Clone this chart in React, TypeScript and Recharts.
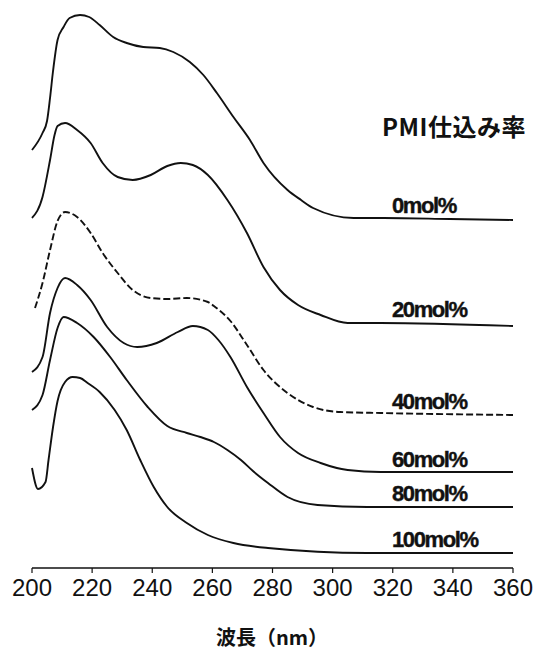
import React from 'react';
import { LineChart, Line, XAxis, YAxis } from 'recharts';

// wavelength (nm) and stacked absorbance (arbitrary units, offset per curve)
const wl0 = [200, 203.5, 205, 206, 207, 208.5, 210.5, 212.5, 216, 219, 222.5, 227, 231.5, 237, 242.5, 247, 252.5, 257, 261.5, 267, 272.5, 277, 285, 289.5, 293.5, 307, 317, 339, 360];
const abs0 = [418, 435, 447, 470, 497, 528, 541, 550, 553, 551, 543, 531, 525, 521, 520, 516, 506, 493, 475, 451, 428, 405, 378, 368, 360, 350, 350, 349, 348];

const wl20 = [200, 203.5, 206, 207.5, 208.5, 211, 215, 219.5, 223.5, 228.5, 233.5, 239.5, 245, 249.5, 253.5, 258.5, 265, 271.5, 277, 282.5, 288.5, 296, 305, 316, 360];
const abs20 = [350, 371, 408, 433, 442, 445, 438, 425, 405, 391, 388, 393, 402, 405, 403, 393, 368, 335, 301, 278, 263, 253, 245, 245, 242];

const wl40 = [201, 203.5, 206, 208.5, 211, 215, 219.5, 223.5, 228.5, 233.5, 239.5, 245, 251.5, 258.5, 260.5, 266, 271.5, 277, 285, 293.5, 302.5, 316, 360];
const abs40 = [260, 285, 318, 347, 356, 351, 335, 315, 295, 278, 270, 269, 270, 266, 262, 247, 223, 198, 175, 161, 156, 155, 153];

const wl60 = [200, 203.5, 206, 208.5, 211, 215, 219.5, 225, 230.5, 235, 241.5, 248.5, 253.5, 258.5, 262, 266, 271.5, 277, 282.5, 288.5, 296, 305, 316, 360];
const abs60 = [196, 211, 255, 280, 290, 283, 268, 241, 225, 221, 225, 236, 242, 238, 228, 211, 181, 155, 131, 115, 105, 98, 96, 96];

const wl80 = [200, 203.5, 206, 208.5, 210.5, 215, 220.5, 226, 231.5, 238.5, 245, 251.5, 256, 260.5, 265, 269.5, 273.5, 278.5, 285, 295, 311.5, 360];
const abs80 = [158, 173, 208, 240, 251, 245, 231, 211, 188, 161, 142, 135, 131, 126, 118, 108, 97, 85, 71, 63, 61, 61];

const wl100 = [200, 202, 204.5, 205.5, 207, 208.5, 211, 213.5, 216, 218.5, 222.5, 227.5, 231.5, 236, 240.5, 245, 251.5, 258.5, 267, 278.5, 311.5, 360];
const abs100 = [100, 79, 86, 108, 141, 167, 186, 191, 190, 185, 176, 158, 138, 108, 81, 61, 45, 33, 25, 20, 15, 15];

const seriesNames = ['0mol%', '20mol%', '40mol%', '60mol%', '80mol%', '100mol%'];
const xTicks = [200, 220, 240, 260, 280, 300, 320, 340, 360];

const zip = (wl: number[], a: number[]) => wl.map((w, i) => ({ wl: w, a: a[i] }));

const series = [
  { name: seriesNames[0], data: zip(wl0, abs0), dash: undefined },
  { name: seriesNames[1], data: zip(wl20, abs20), dash: undefined },
  { name: seriesNames[2], data: zip(wl40, abs40), dash: '7 3' },
  { name: seriesNames[3], data: zip(wl60, abs60), dash: undefined },
  { name: seriesNames[4], data: zip(wl80, abs80), dash: undefined },
  { name: seriesNames[5], data: zip(wl100, abs100), dash: undefined },
];

// label centre y (px) for each curve name on the right
const labelTops = [206, 310, 402, 460, 494, 540];

const ink = '#111';

export default function App() {
  return (
    <div style={{ position: 'absolute', left: 0, top: 0, width: 537, height: 650, background: '#fff' }}>
      <LineChart width={537} height={650} margin={{ top: 0, right: 24, bottom: 52, left: 32 }}>
        <XAxis
          dataKey="wl"
          type="number"
          domain={[200, 360]}
          ticks={xTicks}
          interval={0}
          height={30}
          axisLine={{ stroke: ink, strokeWidth: 1.5 }}
          tickLine={{ stroke: ink, strokeWidth: 1.2 }}
          tickSize={5}
          tickMargin={6}
          tick={{ fontSize: 24, fill: ink, fontFamily: 'Liberation Sans, Arial, sans-serif' }}
          allowDuplicatedCategory={false}
        />
        <YAxis hide type="number" domain={[0, 568]} allowDataOverflow />
        {series.map(s => (
          <Line
            key={s.name}
            data={s.data}
            dataKey="a"
            name={s.name}
            type="monotone"
            stroke={ink}
            strokeWidth={1.9}
            strokeDasharray={s.dash}
            dot={false}
            activeDot={false}
            isAnimationActive={false}
          />
        ))}
      </LineChart>

      <div
        style={{
          position: 'absolute', left: 382, top: 114, fontSize: 24, lineHeight: '24px', fontWeight: 700,
          fontFamily: '"Noto Sans CJK JP", sans-serif', color: ink, whiteSpace: 'nowrap', letterSpacing: 0.5,
        }}
      >
        PMI仕込み率
      </div>

      {seriesNames.map((n, i) => (
        <div
          key={n}
          style={{
            position: 'absolute', left: 392, top: labelTops[i] - 11, fontSize: 22, lineHeight: '22px',
            fontWeight: 700, letterSpacing: -1.4, fontFamily: '"Liberation Sans", Arial, sans-serif',
            color: ink, whiteSpace: 'nowrap', WebkitTextStroke: '0.4px #111',
          }}
        >
          {n}
        </div>
      ))}

      <div
        style={{
          position: 'absolute', left: 0, width: 544, top: 625, textAlign: 'center', fontSize: 20,
          lineHeight: '24px', fontWeight: 700, fontFamily: '"Noto Sans CJK JP", sans-serif', color: ink,
        }}
      >
        波長（nm）
      </div>
    </div>
  );
}
